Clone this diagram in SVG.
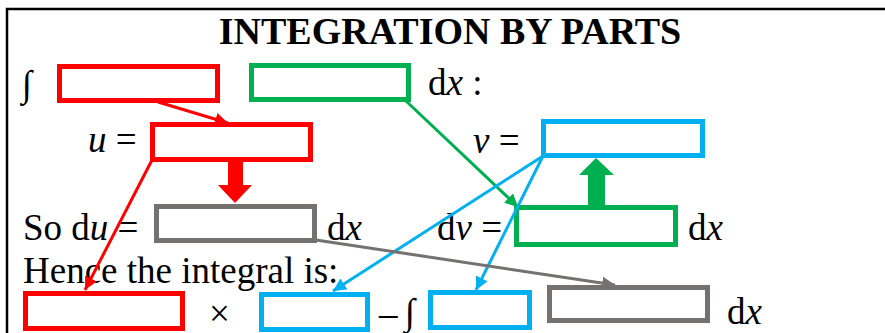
<svg xmlns="http://www.w3.org/2000/svg" width="885" height="333" viewBox="0 0 885 333">
<style>
text{font-family:"Liberation Serif","Times New Roman",serif;font-size:37px;fill:#000}
.t{font-weight:bold;font-size:38px}
.i{font-style:italic}
.box{fill:#fff;stroke-width:5}
.red{stroke:#FF0000}.green{stroke:#00B050}.blue{stroke:#00B0F0}.gray{stroke:#767171}
.ln{fill:none;stroke-width:3}
</style>
<defs>
<marker id="ar" markerUnits="userSpaceOnUse" markerWidth="14" markerHeight="13" refX="13" refY="6.5" orient="auto"><path d="M0,0 L13,6.5 L0,13 z" fill="#FF0000"/></marker>
<marker id="ag" markerUnits="userSpaceOnUse" markerWidth="14" markerHeight="13" refX="13" refY="6.5" orient="auto"><path d="M0,0 L13,6.5 L0,13 z" fill="#00B050"/></marker>
<marker id="ab" markerUnits="userSpaceOnUse" markerWidth="14" markerHeight="13" refX="13" refY="6.5" orient="auto"><path d="M0,0 L13,6.5 L0,13 z" fill="#00B0F0"/></marker>
<marker id="ay" markerUnits="userSpaceOnUse" markerWidth="14" markerHeight="13" refX="13" refY="6.5" orient="auto"><path d="M0,0 L13,6.5 L0,13 z" fill="#767171"/></marker>
</defs>
<rect width="885" height="333" fill="#fff"/>
<path d="M7,333 V9 H885" fill="none" stroke="#000" stroke-width="2.5"/>
<text class="t" x="450" y="44" text-anchor="middle">INTEGRATION BY PARTS</text>
<g id="labels">
<text x="22" y="96">∫</text>
<text x="428" y="95">d<tspan class="i">x</tspan> :</text>
<text x="88" y="152"><tspan class="i">u</tspan> =</text>
<text x="473" y="153"><tspan class="i">v</tspan> =</text>
<text x="23" y="240">So d<tspan class="i">u</tspan> =</text>
<text x="327" y="240">d<tspan class="i">x</tspan></text>
<text x="437" y="240">d<tspan class="i">v</tspan> =</text>
<text x="688" y="240">d<tspan class="i">x</tspan></text>
<text x="23" y="283">Hence the integral is:</text>
<text x="209" y="326">×</text>
<text x="379" y="326">–</text>
<text x="405" y="324">∫</text>
<text x="727" y="324">d<tspan class="i">x</tspan></text>
</g>
<g id="f"><rect class="box red" x="59.5" y="66.5" width="158" height="34"/></g>
<g id="g"><rect class="box green" x="251.5" y="65.5" width="157" height="34"/></g>
<g id="u"><rect class="box red" x="152.5" y="124.5" width="158" height="35"/></g>
<g id="du"><rect class="box gray" x="156.5" y="206.5" width="158" height="34"/></g>
<g id="v"><rect class="box blue" x="543.5" y="121.5" width="159" height="34"/></g>
<g id="dv"><rect class="box green" x="516.5" y="207.5" width="159" height="37"/></g>
<g id="u2"><rect class="box red" x="25.5" y="293.5" width="157" height="35"/></g>
<g id="v2"><rect class="box blue" x="261.5" y="294.5" width="106" height="35"/></g>
<g id="v3"><rect class="box blue" x="430.5" y="292.5" width="99" height="35"/></g>
<g id="du2"><rect class="box gray" x="549.5" y="287.5" width="158" height="33"/></g>
<g id="connectors">
<line class="ln red" x1="158" y1="102" x2="228" y2="123" marker-end="url(#ar)"/>
<line class="ln green" x1="406" y1="101" x2="518" y2="207" marker-end="url(#ag)"/>
<line class="ln red" x1="152" y1="160" x2="85" y2="290" marker-end="url(#ar)"/>
<line class="ln blue" x1="543" y1="156" x2="333" y2="291" marker-end="url(#ab)"/>
<line class="ln blue" x1="543" y1="156" x2="476" y2="290" marker-end="url(#ab)"/>
<line class="ln gray" x1="316" y1="240" x2="615" y2="285" marker-end="url(#ay)"/>
<polygon points="228,162 243,162 243,185 252,185 235,203 218,185 228,185" fill="#FF0000"/>
<polygon points="588,205 605,205 605,175 614,175 596,158 579,175 588,175" fill="#00B050"/>
</g>
</svg>
